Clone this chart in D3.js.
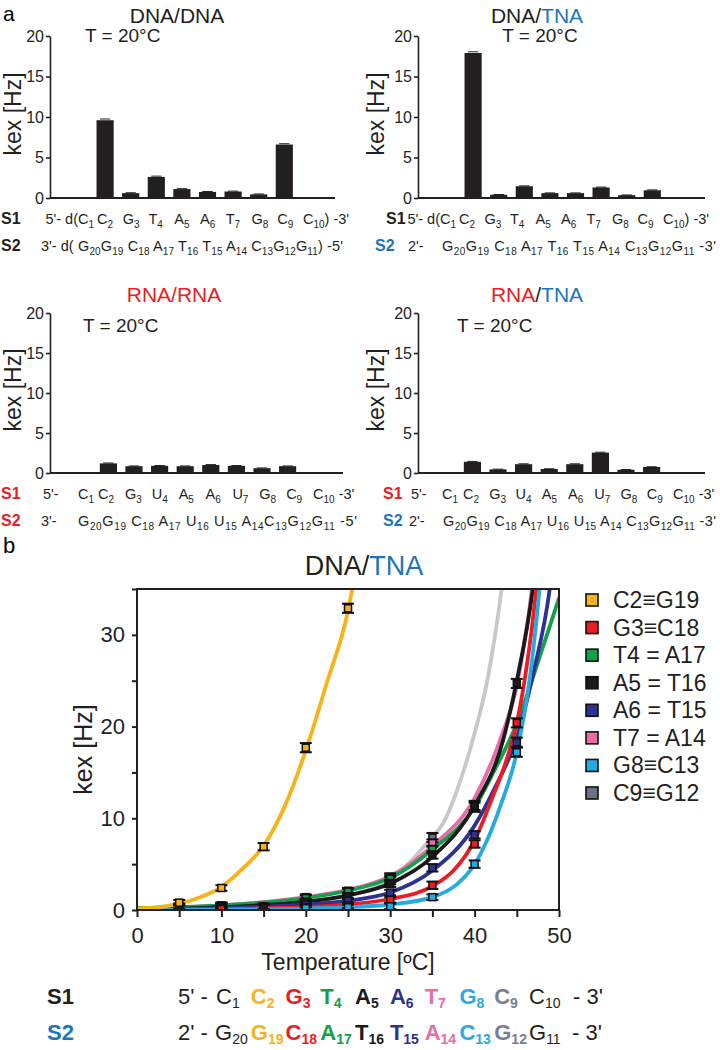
<!DOCTYPE html>
<html><head><meta charset="utf-8">
<script src="https://cdn.jsdelivr.net/npm/d3@7"></script>
<style>body{margin:0;background:#fff}svg{display:block;font-family:"Liberation Sans",Arial,Helvetica,sans-serif}</style>
</head><body><svg id="c" width="720" height="1050"></svg>
<script>
// ================= DATA: panel a =================
const categories = ["C1","C2","G3","T4","A5","A6","T7","G8","C9","C10"];
const dnaDna = [0, 9.6, 0.6, 2.6, 1.1, 0.75, 0.8, 0.45, 6.6, 0];
const dnaDnaErr = [0, 0.15, 0.05, 0.1, 0.05, 0.05, 0.05, 0.05, 0.1, 0];
const dnaTna = [0, 17.9, 0.4, 1.45, 0.6, 0.6, 1.3, 0.35, 0.95, 0];
const dnaTnaErr = [0, 0.15, 0.03, 0.05, 0.03, 0.03, 0.05, 0.03, 0.05, 0];
const rnaRna = [0, 1.2, 0.85, 0.9, 0.85, 1.0, 0.9, 0.6, 0.85, 0];
const rnaRnaErr = [0, 0.05, 0.03, 0.03, 0.03, 0.05, 0.03, 0.03, 0.03, 0];
const rnaTna = [0, 1.4, 0.45, 1.1, 0.5, 1.1, 2.55, 0.4, 0.75, 0];
const rnaTnaErr = [0, 0.05, 0.03, 0.05, 0.03, 0.05, 0.05, 0.03, 0.03, 0];
const yTicksA = [0, 5, 10, 15, 20];

const dnaS1 = ["C_2","G_3","T_4","A_5","A_6","T_7","G_8","C_9","C_10) -3'"];
const rnaS1 = ["C_2","G_3","U_4","A_5","A_6","U_7","G_8","C_9","C_10 -3'"];
const dnaDnaS2 = "G_20G_19 C_18 A_17 T_16 T_15 A_14 C_13G_12G_11) -5'";
const dnaTnaS2 = "G_20G_19 C_18  A_17 T_16 T_15 A_14 C_13G_12G_11 -3'";
const rnaRnaS2 = "G_20G_19 C_18 A_17 U_16 U_15 A_14C_13G_12G_11 -5'";
const rnaTnaS2 = "G_20G_19 C_18  A_17 U_16 U_15 A_14 C_13G_12G_11 -3'";

// ================= DATA: panel b =================
const tempTicks = [0,5,10,15,20,25,30,35,40,45,50];
const kTicks = [0,5,10,15,20,25,30,35];
const pairLabels = ["C2\u2261G19","G3\u2261C18","T4 = A17","A5 = T16","A6 = T15","T7 = A14","G8\u2261C13","C9\u2261G12"];
// measured points [T, kex, err]
const ptsC2 = [[5,0.8,0.3],[10,2.4,0.3],[15,6.9,0.4],[20,17.7,0.5],[25,32.9,0.5]];
const ptsG3 = [[10,0.1,0.3],[20,0.3,0.3],[25,0.5,0.3],[30,1.1,0.3],[35,2.7,0.4],[40,7.2,0.4],[45,20.4,0.5]];
const ptsT4 = [[5,0.4,0.3],[10,0.5,0.3],[15,0.4,0.3],[20,1.3,0.3],[25,2.0,0.3],[30,3.4,0.4],[35,6.6,0.4],[40,11.2,0.5]];
const ptsA5 = [[5,0.3,0.3],[10,0.4,0.3],[15,0.3,0.3],[20,0.9,0.3],[25,1.5,0.3],[30,2.9,0.4],[35,6.0,0.4],[40,11.4,0.5],[45,24.7,0.5]];
const ptsA6 = [[10,0.2,0.3],[20,0.6,0.3],[25,1.0,0.3],[30,1.9,0.3],[35,4.6,0.4],[40,8.2,0.4],[45,18.3,0.5]];
const ptsT7 = [[10,0.5,0.3],[20,1.4,0.3],[25,2.1,0.3],[30,3.6,0.4],[35,7.3,0.4]];
const ptsG8 = [[20,0.2,0.3],[25,0.3,0.3],[30,0.4,0.3],[35,1.4,0.3],[40,5.0,0.4],[45,17.2,0.5]];
const ptsC9 = [[10,0.4,0.3],[20,0.9,0.3],[25,1.6,0.3],[30,3.2,0.4],[35,7.9,0.5]];
// fitted curves [T, kex]
const fitC2 = [[0,0.15],[2.5,0.3],[5,0.7],[7.5,1.4],[10,2.5],[12.5,4.5],[15,7.0],[17.5,11.3],[20,17.4],[22.5,24.8],[25,32.6],[26,37.5]];
const fitG3 = [[0,0.02],[10,0.1],[20,0.3],[25,0.6],[30,1.2],[35,2.6],[37.5,4.3],[40,7.6],[42,12],[44,17],[45,20.4],[46,25.5],[47.3,35],[47.6,38]];
const fitT4 = [[0,0.2],[10,0.5],[20,1.3],[25,2.1],[30,3.5],[35,6.6],[40,11.2],[42.5,15.5],[45,20.3],[47.5,27],[50,34]];
const fitA5 = [[0,0.05],[10,0.3],[20,0.9],[25,1.6],[30,2.9],[35,5.8],[40,11.4],[43.4,18.6],[45,25],[46.9,35],[47.3,38]];
const fitA6 = [[0,0.03],[10,0.2],[20,0.6],[25,1.0],[30,1.9],[35,4.3],[40,9.2],[42.5,13.5],[45,18.8],[47,26],[48.9,35],[49.3,38]];
const fitT7 = [[0,0.2],[10,0.5],[20,1.4],[25,2.2],[30,3.7],[35,7.0],[40,12.2],[43,18.5],[45,24.5],[46.8,35],[47.2,38]];
const fitG8 = [[0,0.01],[10,0.05],[20,0.15],[25,0.3],[30,0.6],[35,1.4],[37.9,2.8],[40,5.0],[43,11.2],[45,17.2],[46.5,25],[47.7,35],[48,38]];
const fitC9 = [[0,0.1],[10,0.3],[20,0.9],[25,1.6],[30,3.3],[35,8.0],[36.3,9.5],[37.9,13],[39.8,18.6],[41.5,25],[43.2,35],[43.6,38]];
const bS1 = ["C_1","C_2","G_3","T_4","A_5","A_6","T_7","G_8","C_9","C_10"];
const bS2 = ["G_20","G_19","C_18","A_17","T_16","T_15","A_14","C_13","G_12","G_11"];

// ================= STYLE =================
const BLACK = "#231f20", RED = "#ec1c24", BLUE = "#1c75bc";
const seriesColors = ["#f8b21a","#ec1c24","#13a04a","#1a1a1a","#2e3192","#e96baa","#27aae1","#6e7083"];
const curveColors  = ["#f8b21a","#ec1c24","#13a04a","#1a1a1a","#2e3192","#e96baa","#27aae1","#c8c8ca"];
const seqColors = [null,"#f8b21a","#ec1c24","#13a04a","#1a1a1a","#2e3192","#e96baa","#27aae1","#7b7e90",null];

const svg = d3.select("#c");

function parseSub(s){
  const out=[]; s.split(/(_\d+)/).forEach(p=>{ if(!p) return; if(p[0]==="_") out.push({t:p.slice(1),sub:true}); else out.push({t:p,sub:false}); });
  return out;
}
function rich(g, x, y, str, o){
  const t = g.append("text").attr("x",x).attr("y",y).attr("font-size",o.size).attr("text-anchor",o.anchor||"start").attr("fill",o.fill||BLACK);
  if(o.bold) t.attr("font-weight","bold");
  let sh=false;
  parseSub(str).forEach(tok=>{
    const ts=t.append("tspan").text(tok.t);
    if(tok.sub){ ts.attr("font-size",o.sub); if(!sh){ts.attr("dy",o.dy); sh=true;} }
    else if(sh){ ts.attr("dy",-o.dy); sh=false; }
  });
  if(o.len) t.attr("textLength",o.len).attr("lengthAdjust","spacing");
  return t;
}

// ================= PANEL a =================
svg.append("text").attr("x",3).attr("y",21).attr("font-size",21).text("a");

const panelsA = [
  {vals:dnaDna, err:dnaDnaErr, title:[["DNA/DNA",BLACK]], axisX:50, band:[66.7,322.7], lineEnd:335, y0:198, y20:36,
   titleX:177, titleY:23, tX:85, tAnchor:"start", tY:42, kexX:21, kexY:114, s1Y:224, s2Y:251, s1Col:BLACK, s2Col:BLACK,
   s1X:1, s2X:1, s1Pre:"5'- d(C_1", preX:94, preAnchor:"end", c1X:null, lab:[97,303], s2PreX:41, s2Pre:"3'- d(", s2Start:78, s2Len:265, s2Seq:dnaDnaS2, s1Lab:dnaS1},
  {vals:dnaTna, err:dnaTnaErr, title:[["DNA/",BLACK],["TNA",BLUE]], axisX:418, band:[434.7,690.7], lineEnd:705, y0:198, y20:36,
   titleX:537, titleY:23, tX:540, tAnchor:"middle", tY:42, kexX:384, kexY:114, s1Y:224, s2Y:251, s1Col:BLACK, s2Col:BLUE,
   s1X:386, s2X:375, s1Pre:"5'- d(C_1", preX:456, preAnchor:"end", c1X:null, lab:[459,663], s2PreX:408, s2Pre:"2'-", s2Start:442, s2Len:274, s2Seq:dnaTnaS2, s1Lab:dnaS1},
  {vals:rnaRna, err:rnaRnaErr, title:[["RNA/RNA",RED]], axisX:50, band:[70,326], lineEnd:343, y0:473, y20:313,
   titleX:174, titleY:302, tX:83, tAnchor:"start", tY:332, kexX:21, kexY:390, s1Y:499, s2Y:526, s1Col:RED, s2Col:RED,
   s1X:1, s2X:1, s1Pre:"5'-", preX:43, preAnchor:"start", c1X:78, lab:[98,313], s2PreX:41, s2Pre:"3'-", s2Start:78, s2Len:279, s2Seq:rnaRnaS2, s1Lab:rnaS1},
  {vals:rnaTna, err:rnaTnaErr, title:[["RNA",RED],["/",BLACK],["TNA",BLUE]], axisX:418, band:[434,690], lineEnd:705, y0:473, y20:313,
   titleX:537, titleY:302, tX:457, tAnchor:"start", tY:332, kexX:384, kexY:390, s1Y:499, s2Y:526, s1Col:RED, s2Col:BLUE,
   s1X:383, s2X:383, s1Pre:"5'-", preX:411, preAnchor:"start", c1X:442, lab:[463,673], s2PreX:409, s2Pre:"2'-", s2Start:443, s2Len:273, s2Seq:rnaTnaS2, s1Lab:rnaS1}
];

panelsA.forEach(p=>{
  const g = svg.append("g");
  const x = d3.scaleBand().domain(categories).range(p.band).paddingInner(0.33).paddingOuter(0.165);
  const y = d3.scaleLinear().domain([0,20]).range([p.y0,p.y20]);
  const tt = g.append("text").attr("x",p.titleX).attr("y",p.titleY).attr("text-anchor","middle").attr("font-size",21);
  p.title.forEach(([s,c])=>tt.append("tspan").attr("fill",c).text(s));
  g.append("text").attr("x",p.tX).attr("y",p.tY).attr("text-anchor",p.tAnchor).attr("font-size",19).attr("fill",BLACK).text("T = 20\u00b0C");
  const ya = g.append("g").attr("transform",`translate(${p.axisX},0)`)
    .call(d3.axisLeft(y).tickValues(yTicksA).tickSize(4).tickSizeOuter(0).tickPadding(2));
  ya.selectAll("text").attr("font-size",16).attr("font-family",null).attr("fill",BLACK);
  ya.selectAll("line,path").attr("stroke",BLACK).attr("stroke-width",1.6);
  const kl = g.append("text").attr("transform",`translate(${p.kexX},${p.kexY}) rotate(-90)`).attr("text-anchor","middle").attr("font-size",23).attr("fill",BLACK);
  kl.append("tspan").text("k");
  kl.append("tspan").text("ex");
  kl.append("tspan").text(" [Hz]");
  const rows = categories.map((c,i)=>({c,v:p.vals[i],e:p.err[i]})).filter(d=>d.v>0);
  g.selectAll("rect.bar").data(rows).join("rect")
    .attr("x",d=>x(d.c)).attr("width",x.bandwidth()).attr("y",d=>y(d.v)).attr("height",d=>y(0)-y(d.v)).attr("fill",BLACK);
  g.selectAll("line.err").data(rows).join("line")
    .attr("x1",d=>x(d.c)+x.bandwidth()*0.2).attr("x2",d=>x(d.c)+x.bandwidth()*0.8)
    .attr("y1",d=>y(d.v+d.e)).attr("y2",d=>y(d.v+d.e)).attr("stroke",BLACK).attr("stroke-width",1);
  g.append("line").attr("x1",p.axisX).attr("x2",p.lineEnd).attr("y1",y(0)).attr("y2",y(0)).attr("stroke",BLACK).attr("stroke-width",2);
  const so = {size:14.5, sub:10, dy:3.5};
  g.append("text").attr("x",p.s1X).attr("y",p.s1Y).attr("font-size",16).attr("font-weight","bold").attr("fill",p.s1Col).text("S1");
  g.append("text").attr("x",p.s2X).attr("y",p.s2Y).attr("font-size",16).attr("font-weight","bold").attr("fill",p.s2Col).text("S2");
  rich(g, p.preX, p.s1Y, p.s1Pre, Object.assign({anchor:p.preAnchor}, so));
  if(p.c1X!==null) rich(g, p.c1X, p.s1Y, "C_1", so);
  const lx = d3.scalePoint().domain(categories.slice(1)).range(p.lab);
  p.s1Lab.forEach((s,i)=>rich(g, lx(categories[i+1]), p.s1Y, s, so));
  rich(g, p.s2PreX, p.s2Y, p.s2Pre, so);
  rich(g, p.s2Start, p.s2Y, p.s2Seq, Object.assign({len:p.s2Len}, so));
});

// ================= PANEL b =================
svg.append("text").attr("x",3).attr("y",553).attr("font-size",22).text("b");
const bt = svg.append("text").attr("x",364).attr("y",575).attr("text-anchor","middle").attr("font-size",27);
bt.append("tspan").attr("fill",BLACK).text("DNA/");
bt.append("tspan").attr("fill",BLUE).text("TNA");

const X = d3.scaleLinear().domain([0,50]).range([137,559]);
const Y = d3.scaleLinear().domain([0,35]).range([910,589]);
const gb = svg.append("g");
const defs = svg.append("defs");
defs.append("clipPath").attr("id","plotclip").append("rect").attr("x",X(0)).attr("y",Y(35)).attr("width",X(50)-X(0)).attr("height",Y(0)-Y(35));

const fits = [fitC2,fitG3,fitT4,fitA5,fitA6,fitT7,fitG8,fitC9];
const pts = [ptsC2,ptsG3,ptsT4,ptsA5,ptsA6,ptsT7,ptsG8,ptsC9];
const line = d3.line().x(d=>X(d[0])).y(d=>Y(d[1])).curve(d3.curveMonotoneX);
const drawOrder = [7,5,2,3,4,1,6,0];
const cg = gb.append("g").attr("clip-path","url(#plotclip)");
drawOrder.forEach(i=>{
  cg.append("path").attr("d",line(fits[i])).attr("fill","none").attr("stroke",curveColors[i]).attr("stroke-width",3.8).attr("stroke-linecap","round");
});
drawOrder.forEach(i=>{
  const pg = cg.append("g");
  pts[i].forEach(([t,k,e])=>{
    const cx=X(t), y1=Y(k+e), y2=Y(k-e);
    pg.append("line").attr("x1",cx).attr("x2",cx).attr("y1",y1).attr("y2",y2).attr("stroke","#111").attr("stroke-width",1.6);
    pg.append("line").attr("x1",cx-6).attr("x2",cx+6).attr("y1",y1).attr("y2",y1).attr("stroke","#111").attr("stroke-width",2);
    pg.append("line").attr("x1",cx-6).attr("x2",cx+6).attr("y1",y2).attr("y2",y2).attr("stroke","#111").attr("stroke-width",2);
    pg.append("rect").attr("x",cx-3.5).attr("y",Y(k)-3.5).attr("width",7).attr("height",7).attr("fill",seriesColors[i]).attr("stroke","#111").attr("stroke-width",1.5);
  });
});
gb.append("rect").attr("x",X(0)).attr("y",Y(35)).attr("width",X(50)-X(0)).attr("height",Y(0)-Y(35)).attr("fill","none").attr("stroke",BLACK).attr("stroke-width",2);
const xa = gb.append("g").attr("transform",`translate(0,${Y(0)})`)
  .call(d3.axisBottom(X).tickValues(tempTicks).tickSize(7).tickSizeOuter(0).tickPadding(10).tickFormat(d=>d%10===0?d:""));
const yb = gb.append("g").attr("transform",`translate(${X(0)},0)`)
  .call(d3.axisLeft(Y).tickValues(kTicks).tickSize(5).tickSizeOuter(0).tickPadding(7).tickFormat(d=>(d%10===0)?d:""));
[xa,yb].forEach(a=>{
  a.select(".domain").remove();
  a.selectAll("line").attr("stroke",BLACK).attr("stroke-width",2);
  a.selectAll("text").attr("font-size",22).attr("font-family",null).attr("fill",BLACK);
});
gb.append("text").attr("x",X(25)).attr("y",970).attr("text-anchor","middle").attr("font-size",23).attr("fill",BLACK).text("Temperature [\u00baC]");
const kb = gb.append("text").attr("transform",`translate(92,${(Y(0)+Y(35))/2}) rotate(-90)`).attr("text-anchor","middle").attr("font-size",25).attr("fill",BLACK);
kb.append("tspan").text("k");
kb.append("tspan").text("ex");
kb.append("tspan").text(" [Hz]");

const ly = d3.scalePoint().domain(pairLabels).range([600,793]);
const lg = svg.append("g");
pairLabels.forEach((lab,i)=>{
  lg.append("rect").attr("x",586).attr("y",ly(lab)-6).attr("width",12).attr("height",12).attr("fill",seriesColors[i]).attr("stroke","#111").attr("stroke-width",1.6);
  lg.append("text").attr("x",613).attr("y",ly(lab)+8).attr("font-size",23).attr("fill",BLACK).text(lab);
});

const sx = d3.scalePoint().domain(d3.range(10)).range([216,529]);
const bo = {size:22, sub:14, dy:4};
svg.append("text").attr("x",47).attr("y",1004).attr("font-size",22).attr("font-weight","bold").attr("fill",BLACK).text("S1");
svg.append("text").attr("x",47).attr("y",1040).attr("font-size",22).attr("font-weight","bold").attr("fill",BLUE).text("S2");
svg.append("text").attr("x",178).attr("y",1004).attr("font-size",22).attr("fill",BLACK).text("5' -");
svg.append("text").attr("x",178).attr("y",1040).attr("font-size",22).attr("fill",BLACK).text("2' -");
bS1.forEach((s,i)=>rich(svg, sx(i), 1004, s, Object.assign({fill:seqColors[i]||BLACK, bold:!!seqColors[i]}, bo)));
bS2.forEach((s,i)=>rich(svg, sx(i)-(i===0?1:0), 1040, s, Object.assign({fill:seqColors[i]||BLACK, bold:!!seqColors[i]}, bo)));
svg.append("text").attr("x",573).attr("y",1004).attr("font-size",22).attr("fill",BLACK).text("- 3'");
svg.append("text").attr("x",572).attr("y",1040).attr("font-size",22).attr("fill",BLACK).text("- 3'");
</script></body></html>
